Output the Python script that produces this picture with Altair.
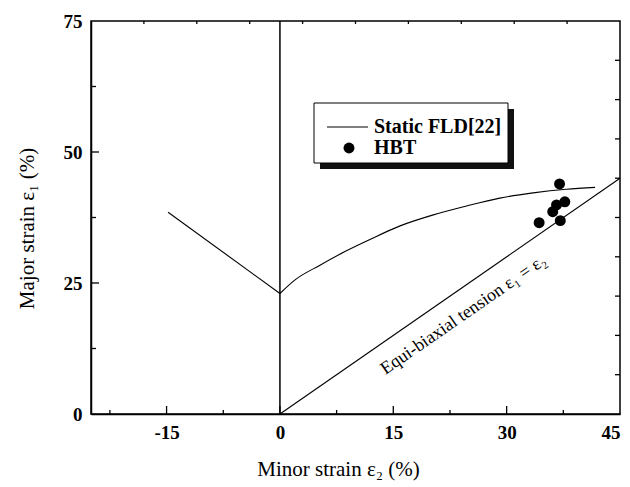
import altair as alt
import pandas as pd

# ---- data ----
# static FLD: left (negative minor strain) branch and right branch
fldl_x = [-14.8, 0.0]
fldl_y = [38.5, 23.0]
fldr_x = [0.0, 2.0, 5.3, 8.6, 11.9, 15.9, 20.3, 24.7, 29.1, 33.5, 37.9, 41.7]
fldr_y = [23.0, 25.6, 28.4, 31.0, 33.3, 35.9, 38.0, 39.7, 41.2, 42.2, 42.9, 43.25]

hbt_x = [37.0, 37.7, 36.6, 36.1, 34.3, 37.1]
hbt_y = [43.9, 40.5, 39.9, 38.6, 36.5, 36.9]

# reference lines: plane strain (x=0) and equi-biaxial (y=x)
ps_x = [0, 0]
ps_y = [0, 75]
eb_x = [0, 45]
eb_y = [0, 45]

x_major = [-15, 0, 15, 30]
x_minor = [-22.5, -7.5, 7.5, 22.5, 37.5]
y_major = [25, 50]
y_minor = [12.5, 37.5, 62.5]
top_ticks = [-18, -11, -4, 3, 10, 17, 24, 31, 38]
right_ticks = [7.5, 15, 22.5, 30, 37.5, 45, 52.5, 60, 67.5]

x_labels = [-15, 0, 15, 30, 45]
y_labels = [0, 25, 50, 75]

W, H = 529, 393
FONT = "Liberation Serif"

xs = alt.Scale(domain=[-25, 45], nice=False, zero=False)
ys = alt.Scale(domain=[0, 75], nice=False, zero=False)

fldl = pd.DataFrame({"x": fldl_x, "y": fldl_y, "o": range(len(fldl_x))})
fldr = pd.DataFrame({"x": fldr_x, "y": fldr_y, "o": range(len(fldr_x))})
hbt = pd.DataFrame({"x": hbt_x, "y": hbt_y})
ps = pd.DataFrame({"x": ps_x, "y": ps_y, "o": [0, 1]})
eb = pd.DataFrame({"x": eb_x, "y": eb_y, "o": [0, 1]})

lbl = "datum.value < 0 ? '-' + abs(datum.value) : '' + datum.value"

xaxis = alt.Axis(values=x_labels, ticks=False, grid=False, labelFont=FONT,
                 labelFontWeight="bold", labelFontSize=19, labelPadding=9,
                 labelColor="black", domainColor="black", domainWidth=1.5,
                 labelExpr=lbl,
                 title="Minor strain ε₂ (%)", titleFont=FONT, titleFontSize=21,
                 titleFontWeight="normal", titleColor="black", titleX=247, titleY=44)
yaxis = alt.Axis(values=y_labels, ticks=False, grid=False, labelFont=FONT,
                 labelFontWeight="bold", labelFontSize=19, labelPadding=9,
                 labelColor="black", domainColor="black", domainWidth=1.5,
                 title="Major strain ε₁ (%)", titleFont=FONT, titleFontSize=21,
                 titleFontWeight="normal", titleColor="black", titleX=-64, titleY=207,
                 titleBaseline="middle", titleAngle=270)

fldl_line = alt.Chart(fldl).mark_line(color="black", strokeWidth=1.1).encode(
    x=alt.X("x:Q", scale=xs, axis=xaxis),
    y=alt.Y("y:Q", scale=ys, axis=yaxis),
    order="o:Q",
)
fldr_line = alt.Chart(fldr).mark_line(color="black", strokeWidth=1.1,
                                      interpolate="monotone").encode(
    x=alt.X("x:Q", scale=xs), y=alt.Y("y:Q", scale=ys), order="o:Q")
ps_line = alt.Chart(ps).mark_line(color="black", strokeWidth=1.5).encode(
    x=alt.X("x:Q", scale=xs), y=alt.Y("y:Q", scale=ys), order="o:Q")
eb_line = alt.Chart(eb).mark_line(color="black", strokeWidth=1.1).encode(
    x=alt.X("x:Q", scale=xs), y=alt.Y("y:Q", scale=ys), order="o:Q")

pts = alt.Chart(hbt).mark_circle(color="black", opacity=1, size=120).encode(
    x=alt.X("x:Q", scale=xs), y=alt.Y("y:Q", scale=ys))

def vticks(vals, y0, y1):
    return alt.Chart(pd.DataFrame({"v": vals})).mark_rule(color="black", strokeWidth=1.3).encode(
        x=alt.X("v:Q", scale=xs), y=alt.value(y0), y2=alt.value(y1))

def hticks(vals, x0, x1):
    return alt.Chart(pd.DataFrame({"v": vals})).mark_rule(color="black", strokeWidth=1.3).encode(
        y=alt.Y("v:Q", scale=ys), x=alt.value(x0), x2=alt.value(x1))

ticks = [
    vticks(x_major, H, H - 8),
    vticks(x_minor, H, H - 4),
    vticks(top_ticks, 0, 3),
    hticks(y_major, 0, 8),
    hticks(y_minor, 0, 5),
    hticks(right_ticks, W, W - 5),
]

one = pd.DataFrame({"a": [0]})
shadow = alt.Chart(one).mark_rect(color="#111111").encode(
    x=alt.value(229), x2=alt.value(423), y=alt.value(88), y2=alt.value(148))
box = alt.Chart(one).mark_rect(fill="white", stroke="black", strokeWidth=1).encode(
    x=alt.value(223), x2=alt.value(417), y=alt.value(82), y2=alt.value(142))
leg_line = alt.Chart(one).mark_rule(color="black", strokeWidth=1.1).encode(
    x=alt.value(236), x2=alt.value(277), y=alt.value(106))
leg_pt = alt.Chart(one).mark_circle(color="black", opacity=1, size=120).encode(
    x=alt.value(258), y=alt.value(127))
leg_t1 = alt.Chart(one).mark_text(text="Static FLD[22]", font=FONT, fontWeight="bold",
                                  fontSize=20, align="left", baseline="middle", color="black").encode(
    x=alt.value(283), y=alt.value(106))
leg_t2 = alt.Chart(one).mark_text(text="HBT", font=FONT, fontWeight="bold",
                                  fontSize=20, align="left", baseline="middle", color="black").encode(
    x=alt.value(283), y=alt.value(127))

ann = alt.Chart(pd.DataFrame({"x": [24.3], "y": [18.9]})).mark_text(
    text="Equi-biaxial tension ε₁ = ε₂", font=FONT, fontSize=18, angle=325.3,
    align="center", baseline="middle", color="black").encode(
    x=alt.X("x:Q", scale=xs), y=alt.Y("y:Q", scale=ys))

chart = alt.layer(fldl_line, fldr_line, ps_line, eb_line, pts, *ticks, ann, shadow, box,
                  leg_line, leg_pt, leg_t1, leg_t2).properties(
    width=W, height=H,
    autosize=alt.AutoSizeParams(type="none"),
    padding={"left": 91, "top": 21, "right": 10, "bottom": 73},
    background="white",
).configure_view(stroke="black", strokeWidth=1.5)

chart.save("out.html", embed_options={"renderer": "svg", "actions": False})
